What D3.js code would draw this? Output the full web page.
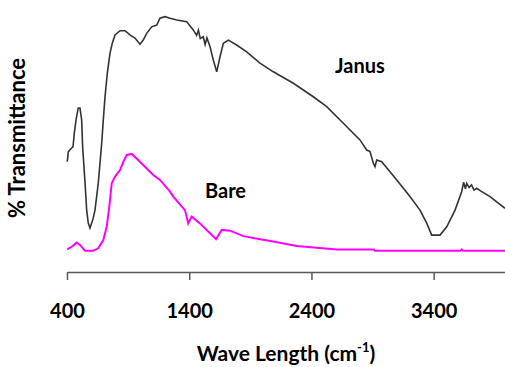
<!DOCTYPE html>
<html>
<head>
<meta charset="utf-8">
<script src="https://cdn.jsdelivr.net/npm/d3@7.9.0/dist/d3.min.js"></script>
<style>
  body { margin: 0; background: #fff; }
  text { font-family: Lato, "Open Sans", sans-serif; font-weight: bold; fill: #000; }
</style>
</head>
<body>
<div id="chart"></div>
<script>
// wave numbers (cm^-1) and % transmittance
const janusWave = [402, 411, 438, 449, 460, 474, 492, 506, 520, 528, 547, 561, 574, 588, 602, 615, 629, 656, 684, 697, 711, 730, 752, 771, 793, 834, 875, 915, 956, 997, 1024, 1052, 1093, 1134, 1161, 1202, 1243, 1298, 1379, 1433, 1460, 1475, 1490, 1515, 1530, 1545, 1570, 1597, 1625, 1652, 1679, 1720, 1788, 1870, 1979, 2088, 2252, 2415, 2525, 2661, 2797, 2852, 2879, 2906, 2920, 2934, 2975, 3098, 3206, 3288, 3343, 3384, 3452, 3507, 3575, 3629, 3645, 3660, 3670, 3690, 3710, 3730, 3752, 3790, 3861, 3984];
const janusT = [42.4, 46.3, 47.7, 48.1, 53.5, 58.5, 63.1, 63.1, 58.5, 48.2, 34.7, 23.8, 18.8, 16.9, 18.8, 20.8, 23.8, 34.2, 49.6, 58.5, 67.4, 76.5, 84.2, 88.1, 91.2, 92.8, 92.8, 91.2, 90.0, 87.6, 89.2, 91.8, 94.3, 95.0, 97.6, 98.2, 97.6, 96.9, 96.3, 93.1, 91.0, 93.0, 89.8, 90.5, 87.5, 90.0, 86.7, 81.5, 77.0, 82.8, 88.0, 89.2, 87.3, 84.7, 80.3, 77.0, 72.6, 67.4, 63.6, 57.2, 50.8, 46.9, 46.3, 41.9, 40.5, 43.1, 42.4, 35.4, 29.0, 23.8, 18.8, 14.2, 14.2, 17.4, 23.8, 30.9, 34.5, 32.0, 34.1, 32.5, 33.5, 31.5, 32.2, 31.0, 29.0, 24.5];

const bareWave = [402, 438, 479, 506, 547, 615, 656, 697, 725, 746, 766, 793, 834, 861, 889, 929, 997, 1106, 1161, 1243, 1270, 1365, 1392, 1420, 1488, 1570, 1619, 1666, 1734, 1843, 1979, 2088, 2279, 2607, 2910, 2920, 3620, 3630, 3640, 3984];
const bareT = [8.7, 9.7, 11.3, 10.4, 8.2, 8.2, 9.1, 12.3, 17.4, 25.1, 34.1, 36.7, 39.2, 42.4, 45.0, 45.4, 42.4, 37.3, 35.4, 30.9, 29.0, 23.8, 18.7, 21.3, 18.7, 14.9, 12.6, 16.2, 15.9, 13.8, 12.6, 11.7, 10.0, 8.7, 8.7, 8.2, 8.2, 8.7, 8.2, 8.2];

const xTicks = [400, 1400, 2400, 3400];

const width = 505;
const height = 367;

const svg = d3.select('#chart')
  .append('svg')
  .attr('width', width)
  .attr('height', height);

const xScale = d3.scaleLinear().domain([400, 4000]).range([67, 507]);
const yScale = d3.scaleLinear().domain([0, 100]).range([272, 12]);

const line = d3.line()
  .x(d => xScale(d[0]))
  .y(d => yScale(d[1]));

const janus = janusWave.map((w, i) => [w, janusT[i]]);
const bare = bareWave.map((w, i) => [w, bareT[i]]);

svg.append('path')
  .datum(bare)
  .attr('d', line)
  .attr('fill', 'none')
  .attr('stroke', '#ff00ff')
  .attr('stroke-width', 2);

svg.append('path')
  .datum(janus)
  .attr('d', line)
  .attr('fill', 'none')
  .attr('stroke', '#333333')
  .attr('stroke-width', 1.6);

// x axis
const xAxis = d3.axisBottom(xScale)
  .tickValues(xTicks)
  .tickFormat(d3.format('d'))
  .tickSize(8)
  .tickSizeOuter(0)
  .tickPadding(24);

const gx = svg.append('g')
  .attr('transform', `translate(0, ${yScale(0)})`)
  .call(xAxis);
gx.select('.domain').attr('stroke', '#595959').attr('stroke-width', 1.5);
gx.selectAll('.tick line').attr('stroke', '#595959').attr('stroke-width', 1.5);
gx.selectAll('.tick text')
  .style('font-family', 'Lato, sans-serif')
  .style('font-weight', 'bold')
  .style('font-size', '20px')
  .attr('fill', '#000');

// axis titles
const xTitle = svg.append('text')
  .attr('x', 286)
  .attr('y', 361)
  .attr('text-anchor', 'middle')
  .style('font-size', '21px');
xTitle.append('tspan').text('Wave Length (cm');
xTitle.append('tspan').attr('dy', -9).style('font-size', '13px').text('-1');
xTitle.append('tspan').attr('dy', 9).text(')');

svg.append('text')
  .attr('transform', 'translate(25, 138) rotate(-90)')
  .attr('text-anchor', 'middle')
  .style('font-size', '22px')
  .text('% Transmittance');

// series labels
svg.append('text')
  .attr('x', 335)
  .attr('y', 73)
  .style('font-size', '20px')
  .text('Janus');

svg.append('text')
  .attr('x', 205)
  .attr('y', 198)
  .style('font-size', '20px')
  .text('Bare');
</script>
</body>
</html>
